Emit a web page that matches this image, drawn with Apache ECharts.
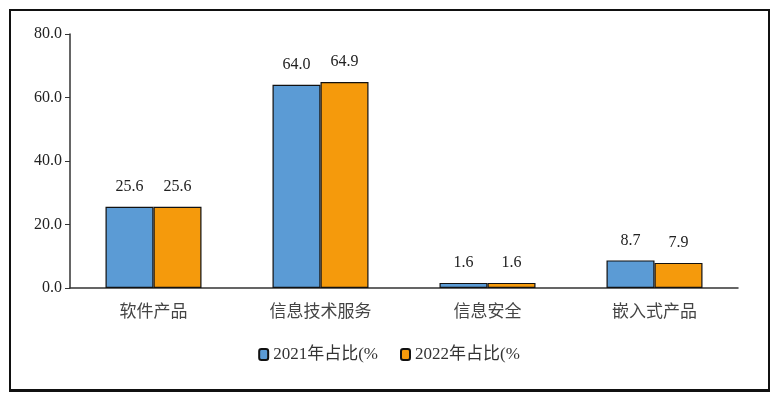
<!DOCTYPE html>
<html><head><meta charset="utf-8">
<script src="https://cdn.jsdelivr.net/npm/echarts@6/dist/echarts.min.js"></script>
<style>html,body{margin:0;background:#fff}#c{width:778px;height:404px}
#f{position:absolute;left:9px;top:9px;width:757px;height:378px;border:2px solid #111;border-bottom:3px solid #111;pointer-events:none}</style>
</head><body><div id="c"></div><div id="f"></div>
<script>
const categories=['软件产品','信息技术服务','信息安全','嵌入式产品'];
const s2021=[25.6,64.0,1.6,8.7];
const s2022=[25.6,64.9,1.6,7.9];
const yTicks=[0,20,40,60,80];
const font='"Liberation Serif","Noto Sans CJK SC",serif';
const lbl={show:true,position:'top',distance:12,color:'#222',fontSize:16,fontFamily:font,formatter:p=>p.value.toFixed(1)};
const c=echarts.init(document.getElementById('c'));
c.setOption({
 animation:false,
 grid:{left:70,right:40,top:34,bottom:116},
 legend:{bottom:36,left:'center',itemWidth:9,itemHeight:11,itemGap:22,textStyle:{fontSize:17,color:'#333',fontFamily:font},
   data:['2021年占比(%','2022年占比(%']},
 xAxis:{type:'category',data:categories,axisTick:{show:false},axisLine:{lineStyle:{color:'#333',width:1.5}},
   axisLabel:{fontSize:17,color:'#444',margin:14,fontFamily:'"Noto Sans CJK SC",sans-serif'}},
 yAxis:{type:'value',min:0,max:80,interval:20,splitLine:{show:false},
   axisLine:{show:true,lineStyle:{color:'#333',width:1.5}},axisTick:{show:true,inside:false,length:5,lineStyle:{color:'#333'}},
   axisLabel:{fontSize:16,color:'#222',fontFamily:font,formatter:v=>v.toFixed(1)}},
 series:[
  {name:'2021年占比(%',type:'bar',data:s2021,barWidth:48,barGap:'0%',itemStyle:{color:'#5B9BD5',borderColor:'#111',borderWidth:1.2},label:lbl},
  {name:'2022年占比(%',type:'bar',data:s2022,barWidth:48,itemStyle:{color:'#F59A0C',borderColor:'#111',borderWidth:1.2},label:lbl}
 ]
});
</script></body></html>
